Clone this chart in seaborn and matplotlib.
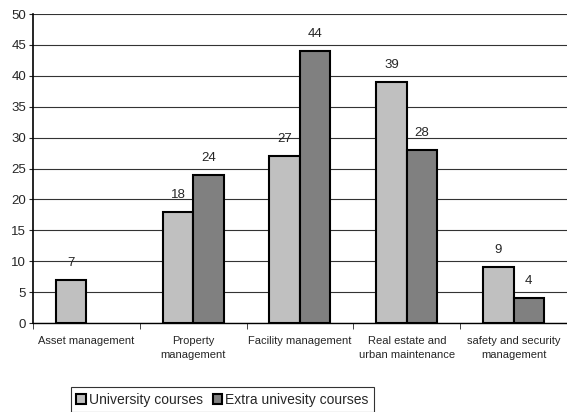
import numpy as np
import pandas as pd
import matplotlib
matplotlib.use("Agg")
import matplotlib.pyplot as plt
import seaborn as sns

# data
categories = ["Asset management", "Property\nmanagement", "Facility management",
              "Real estate and\nurban maintenance", "safety and security\nmanagement"]
university = [7, 18, 27, 39, 9]
extra = [np.nan, 24, 44, 28, 4]
series = ["University courses", "Extra univesity courses"]
colors = ["#c0c0c0", "#808080"]

df = pd.DataFrame({
    "category": categories * 2,
    "series": [series[0]] * 5 + [series[1]] * 5,
    "value": university + extra,
})

sns.set_style("white")
plt.rcParams["font.family"] = ["Liberation Sans", "DejaVu Sans"]

fig = plt.figure(figsize=(5.67, 4.12), dpi=100)
ax = fig.add_axes([0.058, 0.216, 0.942, 0.75])

sns.barplot(data=df, x="category", y="value", hue="series", palette=colors,
            width=0.57, edgecolor="black", linewidth=1.5, ax=ax, zorder=3)

# value labels
for cont in ax.containers:
    labels = ["" if np.isnan(v) else f"{v:.0f}" for v in cont.datavalues]
    ax.bar_label(cont, labels=labels, padding=8, fontsize=9.5)

ax.set_ylim(0, 50)
ax.set_yticks(range(0, 51, 5))
ax.set_xlim(-0.5, 4.5)
ax.yaxis.grid(True, color="#333333", linewidth=0.8, zorder=0)
ax.set_axisbelow(True)

ax.set_xlabel("")
ax.set_ylabel("")
ax.tick_params(axis="y", labelsize=9.5, length=3, direction="out", left=True, pad=2)
ax.tick_params(axis="x", labelsize=8, length=0, pad=9)
for t in ax.get_xticklabels():
    t.set_linespacing(1.6)
ax.set_xticks(np.arange(-0.5, 5.0, 1.0), minor=True)
ax.tick_params(axis="x", which="minor", length=4, bottom=True, direction="out")

for s in ["top", "right"]:
    ax.spines[s].set_visible(False)
ax.spines["left"].set_color("black")
ax.spines["left"].set_linewidth(1.2)
ax.spines["bottom"].set_color("black")
ax.spines["bottom"].set_linewidth(1.0)

handles, labels = ax.get_legend_handles_labels()
ax.legend(handles, labels, loc="upper left", bbox_to_anchor=(0.071, -0.207),
          ncol=2, frameon=True, fancybox=False, edgecolor="black",
          fontsize=10, handlelength=0.7, handleheight=0.7, handletextpad=0.2,
          columnspacing=0.7, borderpad=0.4, borderaxespad=0)
ax.get_legend().get_frame().set_linewidth(0.8)

fig.savefig("out.png", dpi=100)
